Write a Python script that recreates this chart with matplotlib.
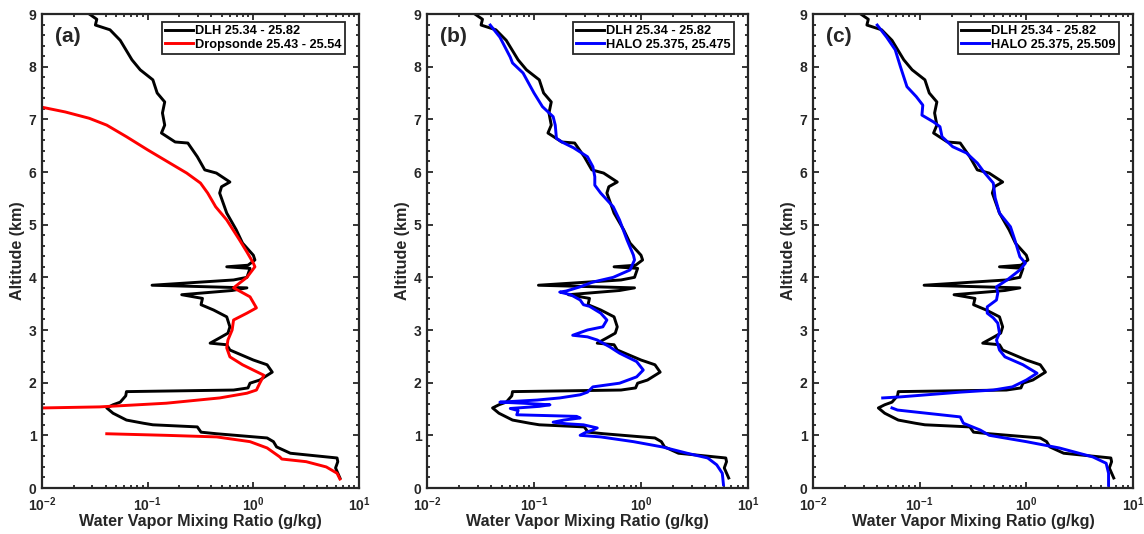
import numpy as np
import matplotlib.pyplot as plt
from matplotlib.ticker import MultipleLocator, LogLocator, NullFormatter

plt.rcParams['font.family'] = ['Liberation Sans', 'DejaVu Sans']
plt.rcParams['font.weight'] = 'bold'
plt.rcParams['mathtext.fontset'] = 'custom'
plt.rcParams['mathtext.bf'] = 'Liberation Sans:bold'
plt.rcParams['mathtext.rm'] = 'Liberation Sans:bold'
plt.rcParams['mathtext.default'] = 'bf'
plt.rcParams['axes.unicode_minus'] = False

# DLH profile (same in all panels)
dlh_alt = [9.0, 8.9, 8.79, 8.7, 8.5, 8.13, 7.94, 7.75, 7.5, 7.33, 7.12, 6.89, 6.74,
           6.57, 6.55, 6.29, 6.04, 5.98, 5.81, 5.72, 5.6, 5.22, 4.9, 4.65, 4.42, 4.33,
           4.23, 4.20, 4.17, 4.0, 3.95, 3.85, 3.8, 3.75, 3.67, 3.6, 3.48, 3.38, 3.25,
           3.06, 2.94, 2.85, 2.75, 2.72, 2.62, 2.43, 2.34, 2.2, 2.05, 1.99, 1.9, 1.86,
           1.83, 1.75, 1.63, 1.58, 1.52, 1.42, 1.29, 1.23, 1.2, 1.16, 1.06, 1.03, 0.95,
           0.88, 0.78, 0.66, 0.57, 0.5, 0.38, 0.19]
dlh_q = [0.028, 0.033, 0.032, 0.044, 0.055, 0.071, 0.085, 0.112, 0.123, 0.145, 0.138,
         0.145, 0.135, 0.182, 0.24, 0.295, 0.347, 0.447, 0.60, 0.50, 0.48, 0.56, 0.69,
         0.79, 1.0, 1.035, 0.89, 0.56, 0.93, 0.87, 0.65, 0.11, 0.87, 0.63, 0.21, 0.33,
         0.32, 0.42, 0.56, 0.60, 0.575, 0.48, 0.39, 0.56, 0.60, 1.0, 1.35, 1.51, 1.15,
         0.93, 0.89, 0.65, 0.063, 0.062, 0.055, 0.047, 0.041, 0.047, 0.063, 0.091,
         0.112, 0.295, 0.32, 0.45, 1.35, 1.55, 1.66, 2.24, 6.2, 6.3, 6.0, 6.6]

# Dropsonde (panel a)
drop_alt = [7.23, 7.14, 7.02, 6.89, 6.67, 6.42, 6.17, 5.98, 5.79, 5.6, 5.34, 5.09, 4.71,
            4.48, 4.27, 4.2, 4.0, 3.89, 3.8, 3.74, 3.63, 3.42, 3.32, 3.19, 3.0, 2.81,
            2.66, 2.49, 2.34, 2.14, 1.99, 1.86, 1.8, 1.71, 1.61, 1.54, 1.52, np.nan,
            1.03, 1.0, 0.97, 0.88, 0.76, 0.59, 0.55, 0.5, 0.4, 0.28, 0.17]
drop_q = [0.01, 0.0166, 0.028, 0.041, 0.063, 0.1, 0.162, 0.234, 0.316, 0.37, 0.44, 0.56,
          0.74, 0.87, 1.0, 1.035, 0.87, 0.74, 0.65, 0.74, 0.93, 1.07, 0.87, 0.65, 0.63,
          0.575, 0.56, 0.60, 0.79, 1.26, 1.15, 1.07, 0.87, 0.48, 0.15, 0.035, 0.01,
          np.nan, 0.041, 0.15, 0.45, 0.93, 1.35, 1.78, 1.86, 3.16, 4.9, 6.2, 6.6]

# HALO 25.375, 25.475 (panel b)
halo_b_alt = [8.79, 8.56, 8.18, 8.07, 7.88, 7.5, 7.24, 7.05, 6.89, 6.64, 6.57, 6.46, 6.29,
              6.1, 5.91, 5.75, 5.6, 5.34, 5.09, 4.71, 4.42, 4.33, 4.14, 4.0, 3.91, 3.82,
              3.74, 3.72, 3.67, 3.57, 3.48, 3.45, 3.32, 3.19, 3.06, 3.0, 2.9, 2.87, 2.81,
              2.68, 2.56, 2.4, 2.24, 2.11, 1.99, 1.92, 1.82, 1.77, 1.71, 1.67, 1.63, 1.61,
              1.58, 1.55, 1.51, 1.47, 1.39, 1.36, 1.33, 1.29, 1.25, 1.22, 1.2, 1.14, 1.1,
              1.05, 1.0, 0.97, 0.88, 0.78, 0.66, 0.57, 0.44, 0.28, 0.06]
halo_b_q = [0.039, 0.048, 0.060, 0.063, 0.079, 0.1, 0.12, 0.151, 0.158, 0.162, 0.182,
            0.234, 0.316, 0.355, 0.37, 0.37, 0.42, 0.55, 0.63, 0.74, 0.85, 0.87, 0.79,
            0.55, 0.355, 0.27, 0.20, 0.174, 0.22, 0.27, 0.29, 0.33, 0.42, 0.48, 0.44,
            0.316, 0.23, 0.316, 0.39, 0.51, 0.63, 0.91, 1.05, 0.91, 0.63, 0.355, 0.316,
            0.27, 0.174, 0.107, 0.048, 0.079, 0.141, 0.112, 0.060, 0.071, 0.069, 0.25,
            0.27, 0.19, 0.151, 0.2, 0.29, 0.39, 0.355, 0.30, 0.27, 0.42, 0.85, 1.58, 2.7,
            4.2, 5.1, 5.75, 5.9]

# HALO 25.375, 25.509 (panel c)
halo_c_alt = [8.79, 8.56, 8.32, 8.0, 7.62, 7.43, 7.27, 7.08, 6.95, 6.86, 6.67, 6.48, 6.36,
              6.17, 6.0, 5.79, 5.51, 5.22, 4.96, 4.71, 4.39, 4.27, 4.14, 3.95, 3.82, 3.7,
              3.57, 3.44, 3.32, 3.23, 3.13, 2.94, 2.81, 2.62, 2.49, 2.34, 2.18, 2.05, 1.92,
              1.86, 1.82, 1.77, 1.73, 1.71, np.nan, 1.52, 1.48, 1.35, 1.23, 1.1, 1.0, 0.88,
              0.76, 0.59, 0.47, 0.28, 0.05]
halo_c_q = [0.040, 0.049, 0.059, 0.066, 0.076, 0.093, 0.107, 0.105, 0.135, 0.155, 0.162,
            0.204, 0.275, 0.347, 0.40, 0.49, 0.51, 0.56, 0.71, 0.78, 0.87, 0.98, 0.87,
            0.66, 0.525, 0.54, 0.525, 0.43, 0.43, 0.49, 0.54, 0.56, 0.525, 0.56, 0.63,
            0.93, 1.26, 1.0, 0.74, 0.49, 0.24, 0.117, 0.066, 0.045, np.nan, 0.055, 0.062,
            0.24, 0.257, 0.37, 0.45, 1.0, 2.04, 4.2, 5.6, 5.9, 5.9]

panels = [
    ("(a)", drop_q, drop_alt, "Dropsonde 25.43 - 25.54", "#ff0000"),
    ("(b)", halo_b_q, halo_b_alt, "HALO 25.375, 25.475", "#0000ff"),
    ("(c)", halo_c_q, halo_c_alt, "HALO 25.375, 25.509", "#0000ff"),
]
lefts = [42, 427, 813]
widths = [317, 321, 320]

W, H = 1144, 534
fig = plt.figure(figsize=(W / 100, H / 100), dpi=100)
axcol = "#262626"

for (lab, q, alt, name, col), l, w in zip(panels, lefts, widths):
    ax = fig.add_axes([l / W, 46 / H, w / W, 474 / H])
    ax.plot(dlh_q, dlh_alt, color="black", lw=2.1, label="DLH 25.34 - 25.82")
    ax.plot(q, alt, color=col, lw=2.1, label=name)
    ax.set_xscale("log")
    ax.set_xlim(1e-2, 1e1)
    ax.set_ylim(0, 9)
    ax.xaxis.set_major_locator(LogLocator(base=10, numticks=10))
    ax.xaxis.set_minor_locator(LogLocator(base=10, subs=np.arange(2, 10), numticks=20))
    ax.xaxis.set_minor_formatter(NullFormatter())
    ax.yaxis.set_major_locator(MultipleLocator(1))
    ax.yaxis.set_minor_locator(MultipleLocator(0.2))
    ax.tick_params(which="both", direction="in", top=True, right=True, colors=axcol,
                   labelcolor=axcol, width=1.3, labelsize=10)
    ax.tick_params(which="major", length=4.5, pad=4)
    ax.tick_params(axis="x", which="major", pad=5.5)
    ax.tick_params(which="minor", length=2.5)
    for sp in ax.spines.values():
        sp.set_linewidth(1.6)
        sp.set_color(axcol)
    ax.set_xlabel("Water Vapor Mixing Ratio (g/kg)", fontsize=11.6, fontweight="bold",
                  color=axcol, labelpad=0)
    ax.set_ylabel("Altitude (km)", fontsize=11.6, fontweight="bold", color=axcol,
                  labelpad=3)
    ax.text(0.04, 0.972, lab, transform=ax.transAxes, fontsize=15, fontweight="bold",
            va="top", ha="left", color=axcol)
    leg = ax.legend(loc="upper right", bbox_to_anchor=(0.955, 0.983), fontsize=9.2,
                    frameon=True, fancybox=False, framealpha=1, edgecolor=axcol,
                    handlelength=2.2, handletextpad=0.15, borderpad=0.25,
                    labelspacing=0.1, borderaxespad=0.0)
    leg.get_frame().set_linewidth(1.3)
    for t in leg.get_texts():
        t.set_fontweight("bold")

fig.savefig("out.png", dpi=100)
